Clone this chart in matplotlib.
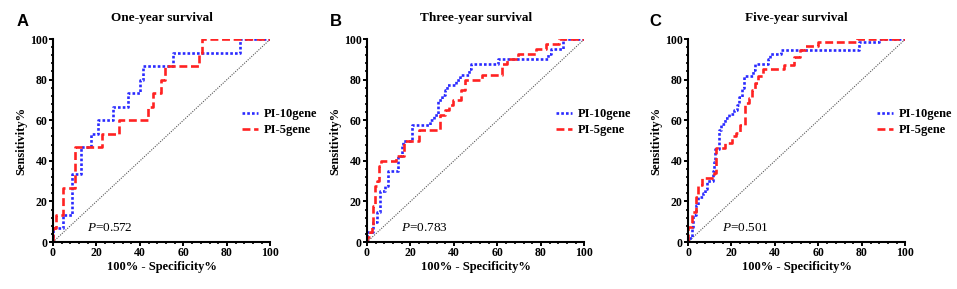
import matplotlib
matplotlib.use("Agg")
import matplotlib.pyplot as plt
from matplotlib.lines import Line2D
from matplotlib.ticker import MultipleLocator, AutoMinorLocator

plt.rcParams['font.family'] = ['Liberation Serif', 'DejaVu Serif']
plt.rcParams['mathtext.fontset'] = 'custom'
plt.rcParams['mathtext.rm'] = 'Liberation Serif'
plt.rcParams['mathtext.it'] = 'Liberation Serif:italic'

# ROC step vertices (1-specificity %, sensitivity %)
one_10_fpr = [0, 0, 4.7, 8.6, 12.7, 17.4, 20.9, 27.5, 34.7, 39.8, 41.3, 55.1, 86.2, 100]
one_10_tpr = [0, 6.7, 13.3, 33.3, 46.7, 53.3, 60, 66.7, 73.3, 80, 86.7, 93.3, 100, 100]
one_5_fpr = [0, 0, 1.4, 4.7, 10.1, 22.4, 30.5, 43.5, 46.2, 49.5, 51.6, 67, 68.5, 100]
one_5_tpr = [0, 6.7, 13.3, 26.7, 46.7, 53.3, 60, 66.7, 73.3, 80, 86.7, 93.3, 100, 100]

three_10_fpr = [0, 0, 2.9, 4.7, 6, 8.3, 9.8, 14.4, 15.9, 16.7, 20.5, 29, 31, 32.5, 34.5,
                36, 37, 41, 42.7, 47, 48, 60.2, 83.2, 84.5, 90.3, 100]
three_10_tpr = [0, 5, 10, 15, 25, 27.5, 35, 42.5, 47.5, 50, 57.5, 60, 62.5, 70, 72.5,
                75, 77.5, 80, 82.5, 85, 87.5, 90, 92.5, 95, 100, 100]
three_5_fpr = [0, 0, 1.5, 2.1, 2.9, 3.7, 4.7, 5.5, 6.3, 13.2, 17, 24, 33.8, 36, 37.5,
               39.6, 43.4, 45.3, 53, 62, 64.3, 69.4, 77.8, 82.2, 88.3, 100]
three_5_tpr = [0, 2.5, 5, 7.5, 17.5, 27.5, 30, 37.5, 40, 42.5, 50, 55, 62.5, 65, 67.5,
               70, 75, 80, 82.5, 87.5, 90, 92.5, 95, 97.5, 100, 100]

five_10_fpr = [0, 0, 1.7, 2.5, 3.5, 4.6, 7, 8, 8.9, 11.5, 12, 12.5, 14.2, 15.4, 16.9,
               18.9, 21.1, 22.6, 23.5, 24.9, 25.8, 30, 30.8, 36.9, 37.8, 43, 78.8, 87.7, 100]
five_10_tpr = [0, 1.9, 7.5, 13.3, 18, 22.2, 24, 26, 30, 35, 39.2, 46, 55.2, 58.2, 61,
               63, 65, 67.5, 71.6, 75.7, 81.8, 84.8, 87.5, 90, 92.6, 94.6, 98.4, 100, 100]
five_5_fpr = [0, 0, 1.7, 3.5, 4.5, 6.3, 11.8, 12.8, 17, 20.1, 22, 24, 26.2, 28, 29.5,
              31, 32, 34.5, 44, 48.7, 51.5, 54, 60, 77.7, 100]
five_5_tpr = [0, 7.5, 15, 22, 28, 31.5, 34, 46.2, 48.6, 52, 53.5, 57.7, 68.4, 70.8, 75,
              78.2, 81.8, 85.2, 87.2, 91.3, 94.6, 96.4, 98.5, 100, 100]

titles = ["One-year survival", "Three-year survival", "Five-year survival"]
letters = ["A", "B", "C"]
p_values = ["0.572", "0.783", "0.501"]
series_names = ["PI-10gene", "PI-5gene"]
curves = [
    (one_10_fpr, one_10_tpr, one_5_fpr, one_5_tpr),
    (three_10_fpr, three_10_tpr, three_5_fpr, three_5_tpr),
    (five_10_fpr, five_10_tpr, five_5_fpr, five_5_tpr),
]

blue = '#2a2aff'
red = '#ff2222'
blue_ls = (0, (1, 0.8))
red_ls = (0, (3, 1.4))

fig = plt.figure(figsize=(9.57, 2.89), dpi=100)
lefts = [53 / 957, 367 / 957, 688 / 957]
letter_x = [17 / 957, 330 / 957, 649 / 957]

for i in range(3):
    ax = fig.add_axes([lefts[i], 0.1626, 0.2272, 0.7024])
    f10, t10, f5, t5 = curves[i]
    ax.plot([0, 100], [0, 100], color='#555555', lw=0.8, linestyle=(0, (1, 1.2)))
    ax.plot(f10, t10, drawstyle='steps-post', color=blue, lw=1.9, linestyle=blue_ls)
    ax.plot(f5, t5, drawstyle='steps-post', color=red, lw=1.9, linestyle=red_ls)

    ax.set_xlim(0, 100)
    ax.set_ylim(0, 100)
    ax.spines['top'].set_visible(False)
    ax.spines['right'].set_visible(False)
    ax.spines['left'].set_linewidth(1.5)
    ax.spines['bottom'].set_linewidth(1.5)
    ax.xaxis.set_major_locator(MultipleLocator(20))
    ax.yaxis.set_major_locator(MultipleLocator(20))
    ax.xaxis.set_minor_locator(AutoMinorLocator(5))
    ax.yaxis.set_minor_locator(AutoMinorLocator(5))
    ax.tick_params(which='major', length=2.8, width=1.4, pad=1, labelsize=8.5)
    ax.tick_params(which='minor', length=1.6, width=1.2)
    for lab in ax.get_xticklabels() + ax.get_yticklabels():
        lab.set_fontweight('bold')

    ax.set_xlabel("100% - Specificity%", fontsize=9, fontweight='bold', labelpad=1)
    ax.set_ylabel("Sensitivity%", fontsize=9, fontweight='bold', labelpad=2)
    ax.set_title(titles[i], fontsize=9.5, fontweight='bold', pad=13)

    ax.text(15.8, 5.2, "$P$=" + p_values[i], fontsize=9.5, va='baseline')

    handles = [Line2D([], [], color=blue, lw=1.9, linestyle=blue_ls),
               Line2D([], [], color=red, lw=1.9, linestyle=red_ls)]
    ax.legend(handles, series_names, loc='center left', bbox_to_anchor=(0.87, 0.59),
              frameon=False, borderaxespad=0, borderpad=0, handlelength=1.3,
              handletextpad=0.4, labelspacing=0.3,
              prop={'family': 'Liberation Serif', 'weight': 'bold', 'size': 9})

    fig.text(letter_x[i], 0.91, letters[i], fontsize=12, fontweight='bold',
             family='Liberation Sans', va='baseline')

fig.savefig("out.png", dpi=100)
